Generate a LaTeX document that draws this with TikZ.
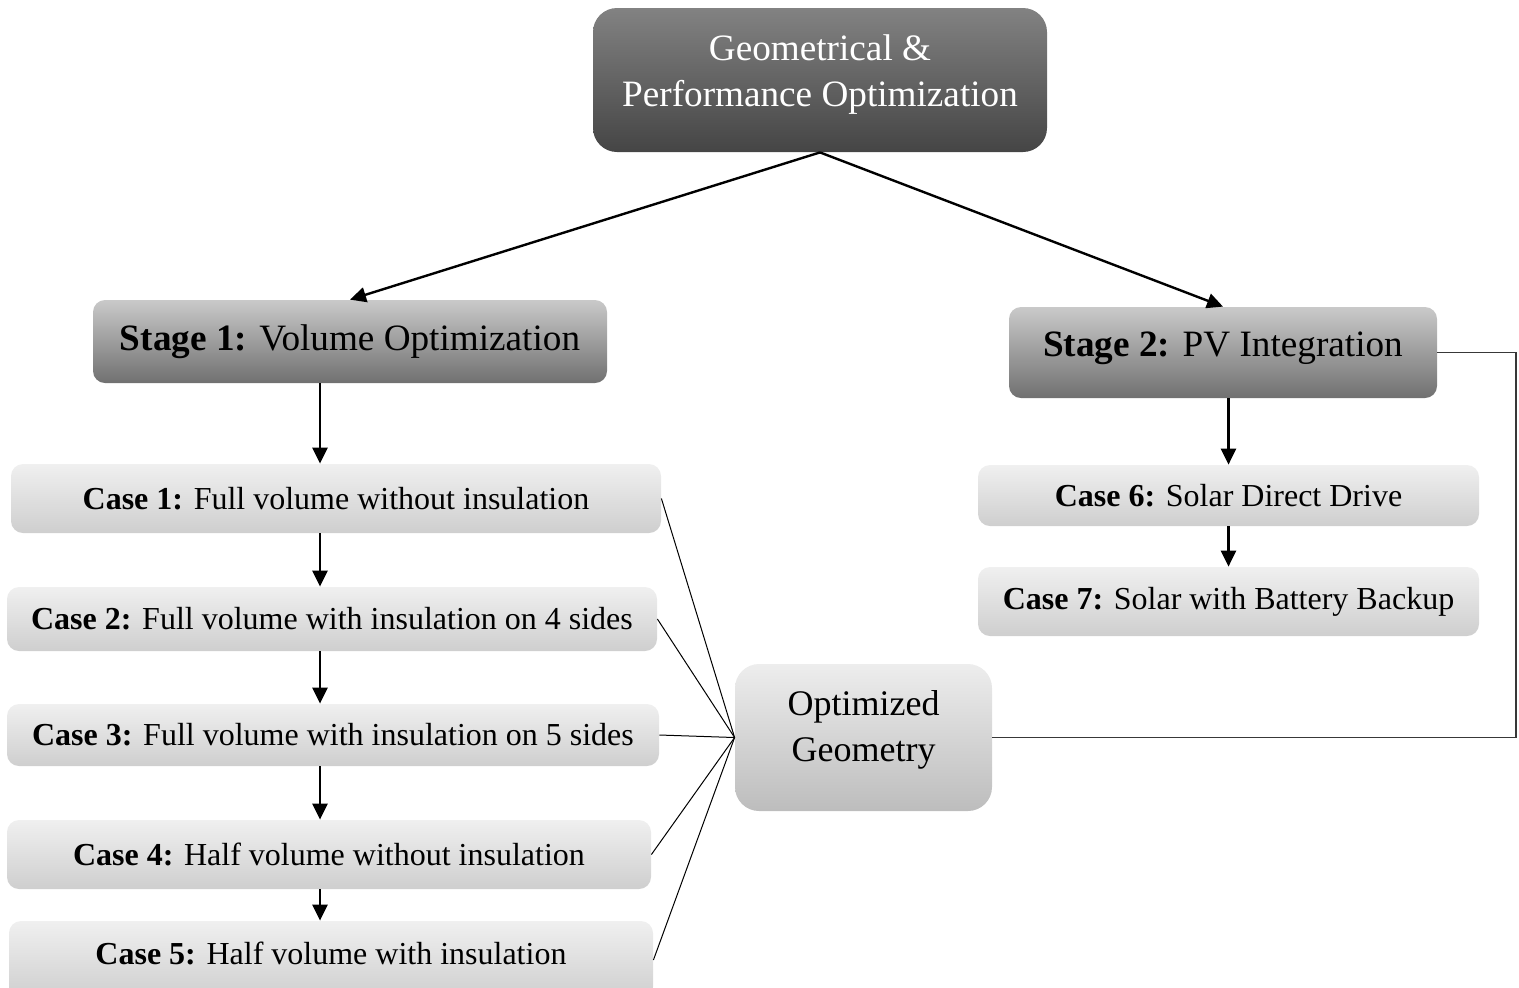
\documentclass[tikz,border=0pt]{standalone}
\usepackage{fontspec}
\setmainfont{Liberation Serif}
\usetikzlibrary{arrows.meta}
\begin{document}
\begin{tikzpicture}[x=0.5pt,y=-0.5pt,
  box/.style={rounded corners=6pt,align=center,inner sep=0pt},
  topbox/.style={box,rounded corners=12pt,top color=black!49,bottom color=black!73,text=white,font=\fontsize{18.6}{23}\selectfont},
  stagebox/.style={box,top color=black!21,bottom color=black!56,font=\fontsize{18.6}{23}\selectfont},
  casebox/.style={box,top color=black!6,bottom color=black!19,font=\fontsize{16}{20}\selectfont},
  optbox/.style={box,rounded corners=12pt,top color=black!7,bottom color=black!26,font=\fontsize{18}{23}\selectfont},
  arr/.style={-{Triangle[length=8pt,width=7.5pt]},line width=1.2pt},
  thin/.style={line width=0.5pt},
  fb/.style={line width=0.75pt,black!78}]
\useasboundingbox (0,0) rectangle (1519,987);
% main boxes
\node[topbox,minimum width=227pt,minimum height=72pt,text depth=9pt] (top) at (820,80) {Geometrical \&\\Performance Optimization};
\node[stagebox,minimum width=257pt,minimum height=41.5pt] (stage1) at (350,341.5) {\textbf{Stage 1:} Volume Optimization};
\node[stagebox,minimum width=214pt,minimum height=45.5pt,text depth=8pt] (stage2) at (1223,352.5) {\textbf{Stage 2:} PV Integration};
% stage 1 cases
\node[casebox,minimum width=325pt,minimum height=34.5pt] (case1) at (336,498.5) {\textbf{Case 1:} Full volume without insulation};
\node[casebox,minimum width=325pt,minimum height=32pt] (case2) at (332,619) {\textbf{Case 2:} Full volume with insulation on 4 sides};
\node[casebox,minimum width=326pt,minimum height=31pt] (case3) at (333,735) {\textbf{Case 3:} Full volume with insulation on 5 sides};
\node[casebox,minimum width=322pt,minimum height=34.5pt] (case4) at (329,854.5) {\textbf{Case 4:} Half volume without insulation};
\node[casebox,minimum width=322pt,minimum height=39pt,text depth=7pt] (case5) at (331,960) {\textbf{Case 5:} Half volume with insulation};
% stage 2 cases
\node[casebox,minimum width=250.5pt,minimum height=30.5pt] (case6) at (1228.5,495.5) {\textbf{Case 6:} Solar Direct Drive};
\node[casebox,minimum width=250.5pt,minimum height=34.5pt] (case7) at (1228.5,601.5) {\textbf{Case 7:} Solar with Battery Backup};
\node[optbox,minimum width=128.5pt,minimum height=73.5pt,text depth=12pt] (opt) at (863.5,737.5) {Optimized\\Geometry};
\coordinate (spine) at (320,0);
\coordinate (loop) at (1516,0);
% arrows
\draw[arr] (top.south) -- (stage1.north);
\draw[arr] (top.south) -- (stage2.north);
\draw[arr] (stage1.south -| spine) -- (case1.north -| spine);
\foreach \a/\b in {case1/case2,case2/case3,case3/case4,case4/case5}
  \draw[arr] (\a.south -| spine) -- (\b.north -| spine);
\draw[arr] (stage2.south -| case6.north) -- (case6.north);
\draw[arr] (case6.south) -- (case7.north);
% lines to optimized geometry
\foreach \c in {case1,case2,case3,case4,case5}
  \draw[thin] (\c.east) -- (opt.west);
\draw[fb] (opt.east) -| (stage2.east -| loop) -- (stage2.east);
\end{tikzpicture}
\end{document}
